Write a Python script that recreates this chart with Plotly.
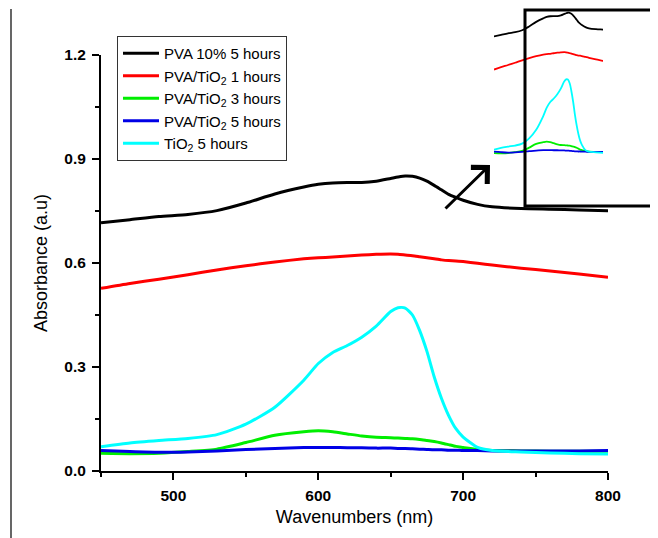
import plotly.graph_objects as go

# ---------------- data ----------------
wavelength = [450, 470, 490, 510, 530, 550, 570, 590, 600, 610, 620, 630, 640, 650, 655,
              660, 665, 670, 675, 680, 685, 690, 695, 700, 710, 720, 740, 760, 780, 800]

pva_5h = [0.716, 0.725, 0.734, 0.740, 0.751, 0.773, 0.799, 0.819, 0.827, 0.831, 0.832, 0.832,
          0.836, 0.844, 0.848, 0.851, 0.850, 0.845, 0.836, 0.824, 0.811, 0.798, 0.789, 0.781,
          0.769, 0.762, 0.757, 0.755, 0.753, 0.751]
pva_tio2_1h = [0.527, 0.541, 0.553, 0.566, 0.580, 0.592, 0.603, 0.612, 0.615, 0.617, 0.620, 0.623,
               0.625, 0.626, 0.625, 0.623, 0.621, 0.618, 0.615, 0.612, 0.609, 0.607, 0.606, 0.604,
               0.599, 0.594, 0.585, 0.577, 0.568, 0.559]
pva_tio2_3h = [0.051, 0.050, 0.051, 0.056, 0.063, 0.082, 0.103, 0.113, 0.116, 0.113, 0.107, 0.101,
               0.097, 0.096, 0.095, 0.094, 0.093, 0.091, 0.088, 0.085, 0.081, 0.076, 0.071, 0.068,
               0.062, 0.059, 0.058, 0.057, 0.057, 0.057]
pva_tio2_5h = [0.059, 0.056, 0.054, 0.055, 0.058, 0.062, 0.065, 0.068, 0.068, 0.068, 0.067, 0.067,
               0.066, 0.066, 0.065, 0.065, 0.064, 0.063, 0.062, 0.061, 0.061, 0.060, 0.060, 0.059,
               0.059, 0.058, 0.058, 0.058, 0.058, 0.059]
tio2_5h = [0.070, 0.081, 0.088, 0.094, 0.105, 0.135, 0.184, 0.262, 0.310, 0.342, 0.362, 0.386,
           0.418, 0.460, 0.471, 0.470, 0.450, 0.405, 0.345, 0.272, 0.210, 0.160, 0.122, 0.098,
           0.068, 0.059, 0.055, 0.052, 0.050, 0.049]

series_names = ["PVA 10% 5 hours", "PVA/TiO<sub>2</sub> 1 hours", "PVA/TiO<sub>2</sub> 3 hours",
                "PVA/TiO<sub>2</sub> 5 hours", "TiO<sub>2</sub> 5 hours"]
series_values = [pva_5h, pva_tio2_1h, pva_tio2_3h, pva_tio2_5h, tio2_5h]
series_colors = ["#000000", "#FF0000", "#00EE00", "#0000E6", "#00FFFF"]

x_ticks = [500, 600, 700, 800]
y_ticks = [0.0, 0.3, 0.6, 0.9, 1.2]
y_ticklabels = ["0.0", "0.3", "0.6", "0.9", "1.2"]

# ---------------- figure ----------------
OFF = 8  # page body margin
W, H = 658, 538
ML, MR, MT, MB = 93, 58, 2, 75
PW, PH = W - ML - MR, H - MT - MB

def px_x(p):
    return (p - OFF - ML) / PW

def px_y(p):
    return (H - MB - (p - OFF)) / PH

FONT = "Arial, Liberation Sans, sans-serif"

fig = go.Figure()

for name, vals, col in zip(series_names, series_values, series_colors):
    fig.add_trace(go.Scatter(x=wavelength, y=vals, name=name, mode="lines",
                             line=dict(color=col, width=3, shape="spline", smoothing=0.6),
                             xaxis="x", yaxis="y"))

# inset copies
for name, vals, col in zip(series_names, series_values, series_colors):
    fig.add_trace(go.Scatter(x=wavelength, y=vals, name=name, mode="lines", showlegend=False,
                             line=dict(color=col, width=1.8, shape="spline", smoothing=1.0),
                             xaxis="x2", yaxis="y2", hoverinfo="skip"))

main_top = px_y(55)

fig.update_layout(
    width=W, height=H,
    margin=dict(l=ML, r=MR, t=MT, b=MB, autoexpand=False),
    paper_bgcolor="white", plot_bgcolor="white",
    font=dict(family=FONT, color="black"),
    showlegend=True,
    legend=dict(x=px_x(117), y=px_y(36), xanchor="left", yanchor="top",
                bgcolor="white", bordercolor="#333333", borderwidth=1,
                font=dict(size=15, family=FONT, color="black"),
                tracegroupgap=0, itemwidth=36),
    xaxis=dict(domain=[0, 1], range=[450, 800], anchor="y",
               showline=True, linecolor="black", linewidth=2, mirror=False,
               showgrid=False, zeroline=False,
               ticks="outside", ticklen=7, tickwidth=1.5, tickcolor="black",
               tickvals=x_ticks, ticktext=[str(v) for v in x_ticks],
               tickfont=dict(size=15.5, family=FONT, color="black", weight="bold"),
               ticklabelstandoff=2,
               minor=dict(ticks="outside", ticklen=4, tickwidth=1.5, tickcolor="black",
                          tick0=450, dtick=50),
               title=dict(text="Wavenumbers (nm)", font=dict(size=18, family=FONT, color="black"),
                          standoff=8)),
    yaxis=dict(domain=[0, main_top], range=[0, 1.2], anchor="x",
               showline=True, linecolor="black", linewidth=2,
               showgrid=False, zeroline=False,
               ticks="outside", ticklen=7, tickwidth=1.5, tickcolor="black",
               tickvals=y_ticks, ticktext=y_ticklabels,
               tickfont=dict(size=15.5, family=FONT, color="black", weight="bold"),
               ticklabelstandoff=3,
               minor=dict(ticks="outside", ticklen=4, tickwidth=1.5, tickcolor="black",
                          tick0=0.15, dtick=0.3),
               title=dict(text="Absorbance (a.u)", font=dict(size=18, family=FONT, color="black"),
                          standoff=12)),
    xaxis2=dict(domain=[px_x(494), px_x(603)], range=[450, 760], anchor="y2", visible=False),
    yaxis2=dict(domain=[px_y(170), px_y(10)], range=[-0.0456, 0.8666], anchor="x2", visible=False),
)

# inset frame
fig.add_shape(type="rect", xref="paper", yref="paper",
              x0=px_x(525), x1=px_x(675), y0=px_y(206), y1=px_y(10),
              line=dict(color="black", width=3), layer="above")
# page border line at left
fig.add_shape(type="line", xref="paper", yref="paper",
              x0=px_x(11), x1=px_x(11), y0=px_y(9), y1=px_y(545),
              line=dict(color="black", width=1.2), layer="above")
# arrow
fig.add_annotation(xref="paper", yref="paper", x=px_x(490), y=px_y(165),
                   ax=-46, ay=45, axref="pixel", ayref="pixel",
                   text="", showarrow=True, arrowhead=4, arrowsize=1.5,
                   arrowwidth=3, arrowcolor="black")

fig.write_html("out.html")
